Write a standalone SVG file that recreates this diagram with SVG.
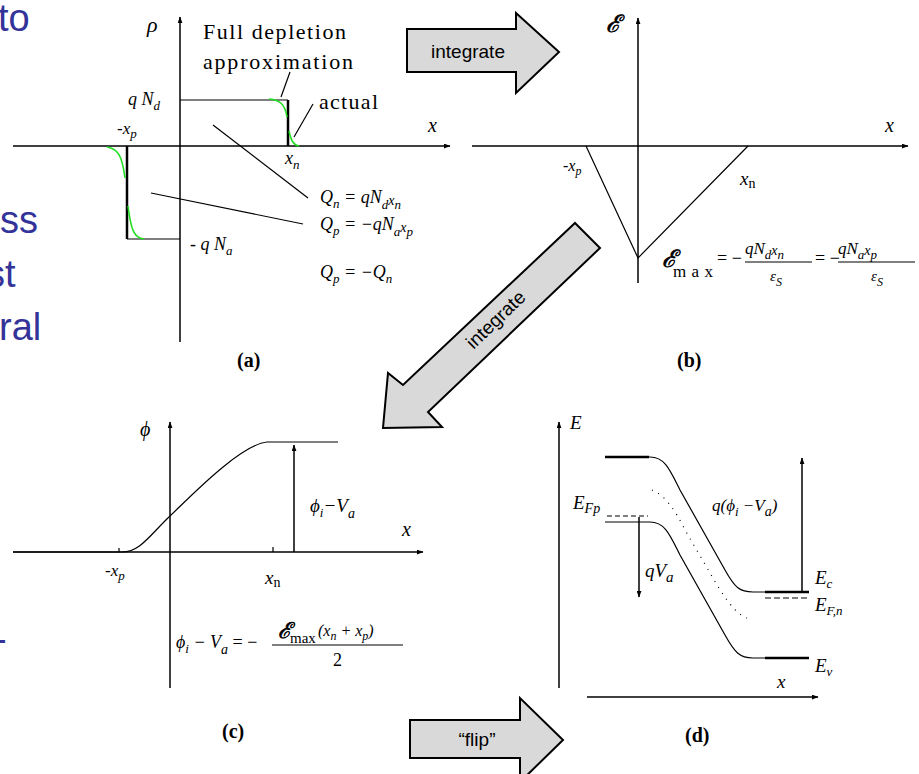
<svg xmlns="http://www.w3.org/2000/svg" width="919" height="774" viewBox="0 0 919 774">
<style>
.bg{fill:#fff}
.ax{stroke:#000;stroke-width:1.5;fill:none}
.thk{stroke:#000;stroke-width:2.5;fill:none}
.ln{stroke:#000;stroke-width:1.2;fill:none}
.grn{stroke:#22dd22;stroke-width:1.6;fill:none}
.m{font-family:"Liberation Serif","DejaVu Serif",serif;font-style:italic;fill:#000}
.r{font-family:"Liberation Serif","DejaVu Serif",serif;fill:#000}
.sc{font-family:"DejaVu Serif","Liberation Serif",serif;font-style:italic;fill:#000;stroke:#000;stroke-width:0.7}
.cap{font-family:"Liberation Serif",serif;font-weight:bold;font-size:20px;fill:#000}
.blue{font-family:"Liberation Sans",Arial,sans-serif;font-size:38px;fill:#333399}
.blk{fill:#d9d9d9;stroke:#000;stroke-width:2}
.bl{font-family:"Liberation Sans",Arial,sans-serif;font-size:19px;fill:#000;text-anchor:middle}
</style>
<defs>
<marker id="ah" viewBox="0 0 8 6" refX="7.5" refY="3" markerWidth="7" markerHeight="5" markerUnits="userSpaceOnUse" orient="auto"><path d="M0,0 L8,3 L0,6 z" fill="#000"/></marker>
</defs>
<rect class="bg" x="0" y="0" width="919" height="774"/>

<g id="slide-text">
<text class="blue" x="-2" y="31">to</text>
<text class="blue" x="0" y="233">ss</text>
<text class="blue" x="-14" y="287">st</text>
<text class="blue" x="-1" y="340">ral</text>
<text class="blue" x="-6" y="652">-</text>
</g>

<g id="panel-a">
<line class="ax" x1="13" y1="146" x2="450" y2="146" marker-end="url(#ah)"/>
<line class="ax" x1="180" y1="342" x2="180" y2="17" stroke-width="2" marker-end="url(#ah)"/>
<path class="ln" d="M180,100 H288" stroke-width="1.6"/>
<path class="thk" d="M288,100 V146"/>
<path class="thk" d="M127,146 V239"/>
<path class="ln" d="M127,239 H180" stroke-width="1.6"/>
<path class="grn" d="M269,99 C280,100 285,104 287,117"/>
<path class="grn" d="M289,131 C291,140 293,145 299,146"/>
<path class="grn" d="M107,147 C118,149 122,155 125,178"/>
<path class="grn" d="M128,206 C131,230 134,238 144,239"/>
<line class="ln" x1="290" y1="72" x2="281" y2="97"/>
<line class="ln" x1="313" y1="104" x2="294" y2="137"/>
<line class="ln" x1="213" y1="125" x2="308" y2="198"/>
<line class="ln" x1="151" y1="193" x2="303" y2="224"/>
<text class="m" x="147" y="32" font-size="22">ρ</text>
<text class="r" x="203" y="39" font-size="22" textLength="143">Full depletion</text>
<text class="r" x="203" y="69" font-size="22" textLength="150">approximation</text>
<text class="r" x="319" y="109" font-size="22" textLength="59">actual</text>
<text class="m" x="128" y="105" font-size="18">q N<tspan font-size="13" dy="5">d</tspan></text>
<text class="m" x="117" y="134" font-size="17">-x<tspan font-size="13" dy="4">p</tspan></text>
<text class="m" x="428" y="132" font-size="20">x</text>
<text class="m" x="285" y="164" font-size="18">x<tspan font-size="13" dy="5">n</tspan></text>
<text class="m" x="190" y="250" font-size="18">- q N<tspan font-size="13" dy="5">a</tspan></text>
<text class="m" x="320" y="203" font-size="18">Q<tspan font-size="13" dy="5">n</tspan><tspan dy="-5"> = qN</tspan><tspan font-size="13" dy="6">d</tspan><tspan font-size="14" dy="-4">x</tspan><tspan font-size="13" dy="4">n</tspan></text>
<text class="m" x="320" y="230" font-size="18">Q<tspan font-size="13" dy="5">p</tspan><tspan dy="-5"> = −qN</tspan><tspan font-size="13" dy="6">a</tspan><tspan font-size="14" dy="-4">x</tspan><tspan font-size="13" dy="4">p</tspan></text>
<text class="m" x="320" y="278" font-size="18">Q<tspan font-size="13" dy="5">p</tspan><tspan dy="-5"> = −Q</tspan><tspan font-size="13" dy="5">n</tspan></text>
<text class="cap" x="237" y="367">(a)</text>
</g>

<g id="panel-b">
<line class="ax" x1="472" y1="146" x2="908" y2="146" marker-end="url(#ah)"/>
<line class="ax" x1="638" y1="283" x2="638" y2="18" marker-end="url(#ah)"/>
<polyline class="ln" points="586,146 638,258 748,146" stroke-width="2"/>
<text class="sc" x="606" y="32" font-size="24">ℰ</text>
<text class="m" x="885" y="132" font-size="20">x</text>
<text class="m" x="563" y="171" font-size="16">-x<tspan font-size="12" dy="4">p</tspan></text>
<text class="m" x="740" y="185" font-size="19">x<tspan class="r" font-style="normal" font-size="14" dy="3">n</tspan></text>
<text class="sc" x="662" y="267" font-size="24">ℰ</text>
<text class="r" x="673" y="277" font-size="17" textLength="40">max</text>
<text class="r" x="717" y="264" font-size="18">= −</text>
<text class="m" x="745" y="254" font-size="17">qN<tspan font-size="13" dy="5">d</tspan><tspan font-size="14" dy="-4">x</tspan><tspan font-size="13" dy="4">n</tspan></text>
<line class="ln" x1="745" y1="262" x2="812" y2="262"/>
<text class="m" x="770" y="281" font-size="15">ε<tspan font-size="12" dy="5">S</tspan></text>
<text class="r" x="815" y="264" font-size="18">= −</text>
<text class="m" x="838" y="254" font-size="17">qN<tspan font-size="13" dy="5">a</tspan><tspan font-size="14" dy="-4">x</tspan><tspan font-size="13" dy="4">p</tspan></text>
<line class="ln" x1="838" y1="262" x2="915" y2="262"/>
<text class="m" x="871" y="281" font-size="15">ε<tspan font-size="12" dy="5">S</tspan></text>
<text class="cap" x="677" y="367">(b)</text>
</g>

<g id="panel-c">
<line class="ax" x1="13" y1="552" x2="423" y2="552" marker-end="url(#ah)"/>
<line class="ax" x1="170" y1="688" x2="170" y2="422" marker-end="url(#ah)"/>
<path class="ln" d="M13,552 L122,552 C140,552 150,535 170,516 S240,445 267,442 L338,442" stroke-width="1.8"/>
<line class="ax" x1="294" y1="552" x2="294" y2="445" marker-end="url(#ah)"/>
<line class="ln" x1="273" y1="552" x2="273" y2="547"/>
<line class="ln" x1="119" y1="552" x2="119" y2="548"/>
<text class="m" x="140" y="436" font-size="20">ϕ</text>
<text class="m" x="402" y="536" font-size="20">x</text>
<text class="m" x="310" y="512" font-size="19">ϕ<tspan font-size="13" dy="5">i</tspan><tspan dy="-5">−V</tspan><tspan font-size="14" dy="6">a</tspan></text>
<text class="m" x="105" y="576" font-size="17">-x<tspan font-size="13" dy="4">p</tspan></text>
<text class="m" x="265" y="584" font-size="19">x<tspan class="r" font-style="normal" font-size="14" dy="3">n</tspan></text>
<text class="m" x="176" y="648" font-size="18">ϕ<tspan font-size="13" dy="5">i</tspan><tspan dy="-5"> − V</tspan><tspan font-size="14" dy="6">a</tspan><tspan class="r" font-style="normal" dy="-6"> = −</tspan></text>
<line class="ln" x1="272" y1="645" x2="403" y2="645"/>
<text class="sc" x="278" y="638" font-size="22">ℰ</text>
<text class="r" x="290" y="643" font-size="15">max</text>
<text class="m" x="318" y="636" font-size="16">(x<tspan font-size="12" dy="4">n</tspan><tspan dy="-4"> + x</tspan><tspan font-size="12" dy="4">p</tspan><tspan dy="-4">)</tspan></text>
<text class="r" x="333" y="666" font-size="18">2</text>
<text class="cap" x="222" y="738">(c)</text>
</g>

<g id="panel-d">
<line class="ax" x1="559" y1="688" x2="559" y2="422" marker-end="url(#ah)"/>
<line class="ax" x1="587" y1="697" x2="818" y2="697" marker-end="url(#ah)"/>
<path class="ln" d="M605,457 H650 C665,457 670,470 680,490 L725,570 C735,588 740,592 753,592 H809" stroke-width="1.8"/>
<path class="thk" d="M605,457 H649 M765,592 H809" stroke-width="3"/>
<path class="ln" d="M605,522 H650 C665,522 670,535 680,555 L725,635 C735,653 740,658 753,658 H809" stroke-width="1.8"/>
<path class="thk" d="M765,658 H809" stroke-width="3"/>
<path class="ln" d="M652,490 C665,495 675,510 685,530 L720,590 C730,605 738,615 747,618" stroke-dasharray="1 6" stroke-width="1.2"/>
<line class="ln" x1="607" y1="516" x2="648" y2="516" stroke-width="2" stroke-dasharray="5 3"/>
<line class="ln" x1="765" y1="598" x2="809" y2="598" stroke-width="2.5" stroke-dasharray="6 3"/>
<line class="ax" x1="639" y1="517" x2="639" y2="597" marker-end="url(#ah)"/>
<line class="ax" x1="802" y1="592" x2="802" y2="458" marker-end="url(#ah)"/>
<text class="m" x="570" y="429" font-size="19">E</text>
<text class="m" x="777" y="688" font-size="19">x</text>
<text class="m" x="573" y="509" font-size="19">E<tspan font-size="14" dy="4">Fp</tspan></text>
<text class="m" x="645" y="577" font-size="19">qV<tspan font-size="15" dy="5">a</tspan></text>
<text class="m" x="712" y="511" font-size="17">q(ϕ<tspan font-size="13" dy="5">i</tspan><tspan dy="-5"> −V</tspan><tspan font-size="14" dy="5">a</tspan><tspan dy="-5">)</tspan></text>
<text class="m" x="815" y="584" font-size="19">E<tspan font-size="13" dy="4">c</tspan></text>
<text class="m" x="815" y="611" font-size="19">E<tspan font-size="13" dy="4">F,n</tspan></text>
<text class="m" x="815" y="672" font-size="19">E<tspan font-size="13" dy="4">v</tspan></text>
<text class="cap" x="685" y="742">(d)</text>
</g>

<g id="connectors">
<path class="blk" d="M407,29 H516 V13 L559,52 L516,93 V72 H407 Z"/>
<text class="bl" x="468" y="58">integrate</text>
<path class="blk" d="M575,223 L600,248 L428,412 L442,427 L383,428 L388,373 L403,385 Z"/>
<text class="bl" x="496" y="326" transform="rotate(-44 496 320)">integrate</text>
<path class="blk" d="M410,720 H520 V698 L563,740 L520,782 V758 H410 Z"/>
<text class="bl" x="477" y="746">“flip”</text>
</g>
</svg>
